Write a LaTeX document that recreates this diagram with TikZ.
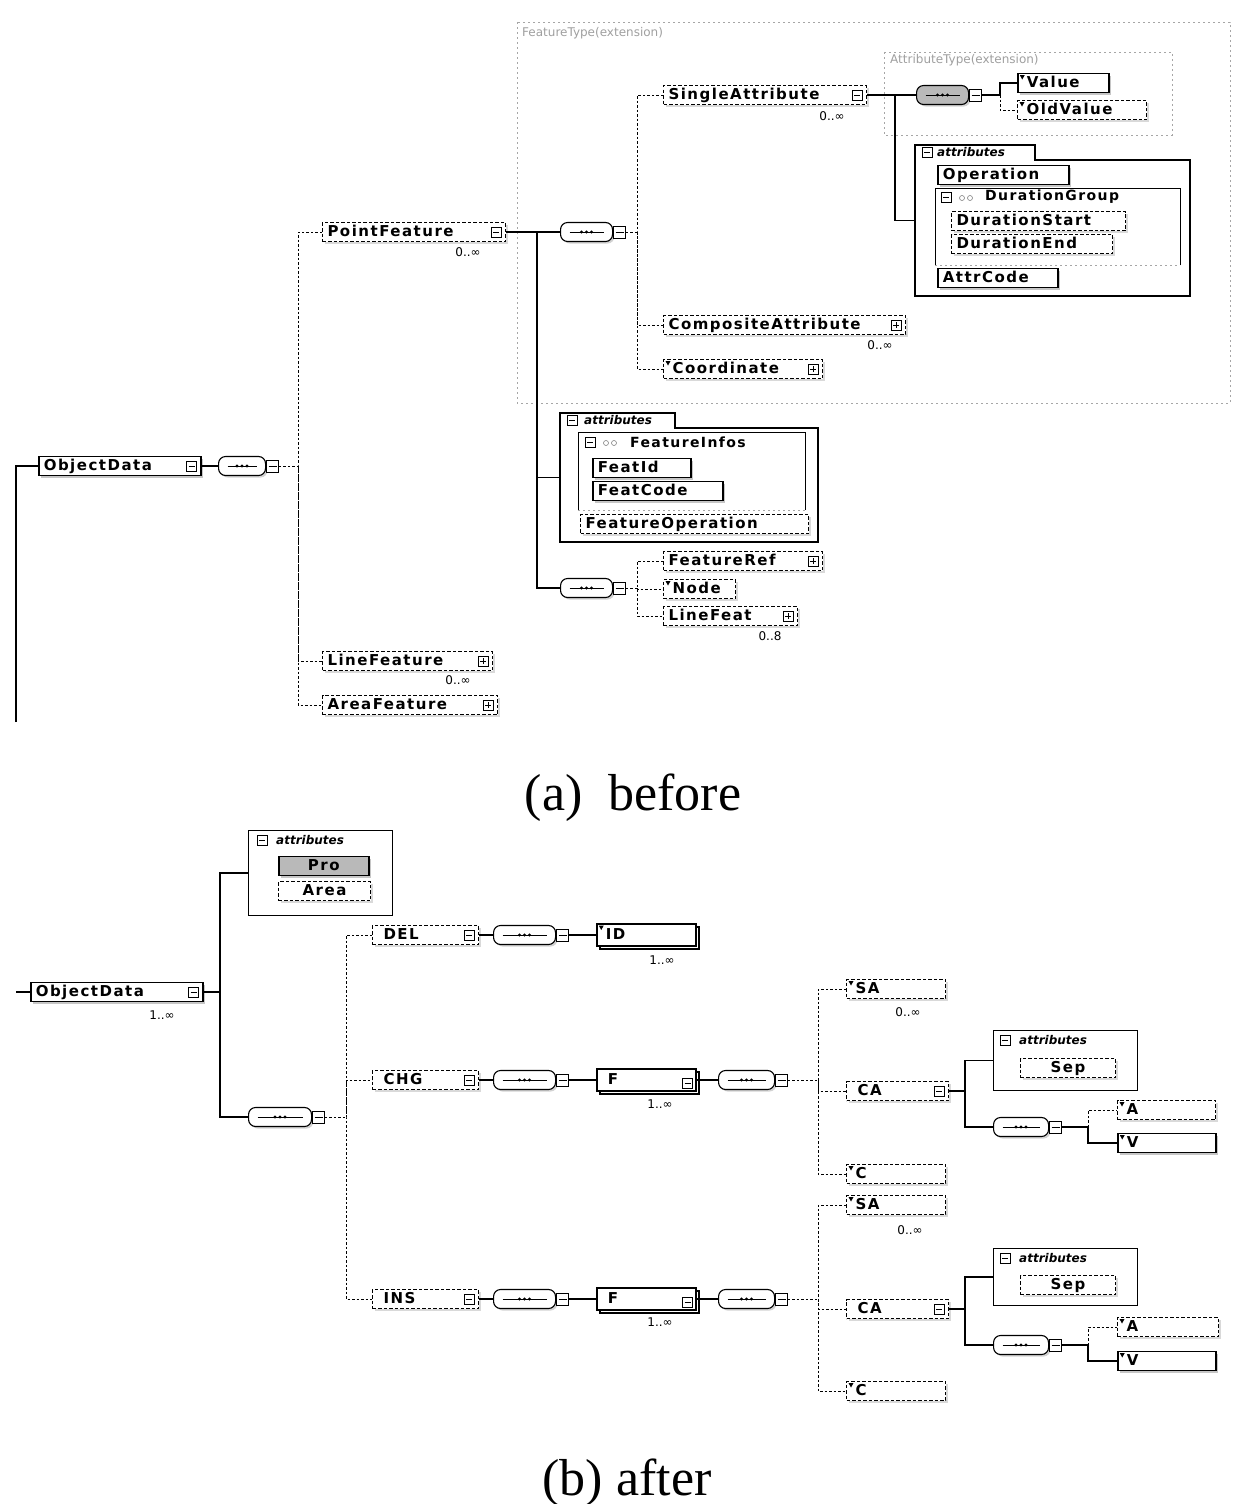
\documentclass[tikz,border=0pt]{standalone}
\usepackage{fontspec}
\setmainfont{Liberation Serif}
\newfontfamily\lab[LetterSpace=10]{DejaVu Sans}
\newfontfamily\smf{DejaVu Sans}
\usetikzlibrary{shadows,calc}
\tikzset{
  base/.style={rectangle, fill=white, anchor=west, inner xsep=5pt, inner ysep=0pt,
    text height=10.5pt, text depth=1.5pt, minimum height=19pt, align=left,
    font=\lab\bfseries\fontsize{15}{16}\selectfont},
  elem/.style={base, draw, line width=1.5pt,
    drop shadow={shadow xshift=2.5pt, shadow yshift=-2.5pt, fill=gray!45, opacity=1}},
  opt/.style={base, draw, line width=1pt, dash pattern=on 3.5pt off 2pt,
    drop shadow={shadow xshift=2.5pt, shadow yshift=-2.5pt, fill=gray!30, opacity=1}},
  multi/.style={copy shadow={shadow xshift=3pt, shadow yshift=-3pt}},
  tri/.style={path picture={\fill[black] ([xshift=2pt,yshift=-1.5pt]path picture bounding box.north west) -- ++(5pt,0pt) -- ++(-2.5pt,-4.5pt) -- cycle;}},
  comp/.style={draw, line width=1.1pt, fill=white, rounded corners=7pt, anchor=west,
    minimum height=19pt, inner sep=0pt,
    drop shadow={shadow xshift=2pt, shadow yshift=-2pt, fill=gray!35, opacity=1},
    path picture={\draw[black, line width=1pt] ([xshift=9pt]path picture bounding box.west) -- ([xshift=-9pt]path picture bounding box.east);
      \foreach \d in {-5,0,5} \fill[black] ([xshift=\d pt]path picture bounding box.center) circle (1.6pt);}},
  minb/.style={draw, line width=0.8pt, fill=white, minimum width=10pt, minimum height=10pt, inner sep=0pt,
    path picture={\draw[black, line width=0.8pt] ([xshift=2pt]path picture bounding box.west) -- ([xshift=-2pt]path picture bounding box.east);}},
  plusb/.style={draw, line width=0.8pt, fill=white, minimum width=10pt, minimum height=10pt, inner sep=0pt,
    path picture={\draw[black, line width=0.8pt] ([xshift=2pt]path picture bounding box.west) -- ([xshift=-2pt]path picture bounding box.east);
      \draw[black, line width=0.8pt] ([yshift=2pt]path picture bounding box.south) -- ([yshift=-2pt]path picture bounding box.north);}},
  cmpi/.style={minb, anchor=west, minimum width=12pt, minimum height=12pt},
  conn/.style={line width=1.3pt},
  tree/.style={line width=1pt, dash pattern=on 2.5pt off 2pt},
  mult/.style={font=\smf\fontsize{12}{13}\selectfont, inner sep=0pt},
  frame/.style={line width=1.1pt},
  grp/.style={line width=0.8pt, gray!70, dash pattern=on 2pt off 3pt},
  grplab/.style={anchor=west, inner sep=0pt, font=\smf\fontsize{12}{13}\selectfont, text=gray!75},
  tablab/.style={anchor=west, inner sep=0pt, font=\smf\bfseries\itshape\fontsize{12}{13}\selectfont},
  hdr/.style={anchor=west, inner sep=0pt, font=\lab\bfseries\fontsize{14}{15}\selectfont},
  abox/.style={inner sep=0pt, anchor=north west},
  captxt/.style={anchor=base, inner sep=0pt, font=\fontsize{52}{60}\selectfont}
}
\begin{document}
\begin{tikzpicture}[x=1pt,y=-1pt]
\useasboundingbox (0,0) rectangle (1232,1504);

% ================= (a) before =================
\draw[grp] (517,22) rectangle (1230,403);
\node[grplab] (ftl) at (522,33) {FeatureType(extension)};
\draw[grp] (884,52) rectangle (1172,135);
\node[grplab] (atl) at (890,60) {AttributeType(extension)};

% ObjectData
\node[elem, text width=152pt] (oda) at (38,466) {ObjectData};
\node[minb] (odaI) at ([xshift=-10pt]oda.east) {};
\node[comp, minimum width=47pt] (cmpOD) at (218,466) {};
\node[cmpi] (cmpODi) at (cmpOD.east) {};

% children of ObjectData
\node[opt, text width=173pt] (pf) at (322,232) {PointFeature};
\node[minb] (pfI) at ([xshift=-10pt]pf.east) {};
\node[mult] (pfM) at (468,252) {0..∞};
\node[opt, text width=160pt] (lf) at (322,661) {LineFeature};
\node[plusb] (lfI) at ([xshift=-10pt]lf.east) {};
\node[mult] (lfM) at (458,680) {0..∞};
\node[opt, text width=165pt] (af) at (322,705) {AreaFeature};
\node[plusb] (afI) at ([xshift=-10pt]af.east) {};

% PointFeature content
\node[comp, minimum width=52pt] (cmpPF) at (560,232) {};
\node[cmpi] (cmpPFi) at (cmpPF.east) {};

\node[opt, text width=193pt] (sa) at (663,95) {SingleAttribute};
\node[minb] (saI) at ([xshift=-10pt]sa.east) {};
\node[mult] (saM) at (832,116) {0..∞};
\node[opt, text width=232pt] (compa) at (663,325) {CompositeAttribute};
\node[plusb] (compaI) at ([xshift=-10pt]compa.east) {};
\node[mult] (compaM) at (880,345) {0..∞};
\node[opt, tri, text width=149pt] (coord) at (663,369) {\hspace{4pt}Coordinate};
\node[plusb] (coordI) at ([xshift=-10pt]coord.east) {};

% SingleAttribute content
\node[comp, minimum width=52pt, fill=gray!55] (cmpSA) at (916,95) {};
\node[cmpi] (cmpSAi) at (cmpSA.east) {};
\node[elem, tri, text width=81pt] (val) at (1017,83) {\hspace{4pt}Value};
\node[opt, tri, text width=119pt] (oldv) at (1017,110) {\hspace{4pt}OldValue};

% attributes box of SingleAttribute
\draw[frame] (915,296) -- (915,145) -- (1035,145) -- (1035,160) -- (1190,160) -- (1190,296) -- cycle;
\node[abox, minimum width=275pt, minimum height=151pt] (ab1) at (915,145) {};
\node[minb] (ab1i) at (927,152) {};
\node[tablab] (ab1l) at (937,152) {attributes};
\node[elem, text width=121pt] (oper) at (937,175) {Operation};
\draw[line width=0.9pt] (935,265) -- (935,188) -- (1180,188) -- (1180,265);
\draw[grp] (935,265) -- (1180,265);
\node[minb] (dgi) at (946,197) {};
\draw[gray, line width=0.6pt] (962,198) circle (2.5pt) (970,198) circle (2.5pt);
\node[hdr] (dgl) at (985,197) {DurationGroup};
\node[opt, text width=164pt] (dstart) at (951,221) {DurationStart};
\node[opt, text width=151pt] (dend) at (951,244) {DurationEnd};
\node[elem, text width=110pt] (acode) at (937,278) {AttrCode};

% attributes box of PointFeature
\draw[frame] (560,542) -- (560,413) -- (675,413) -- (675,428) -- (818,428) -- (818,542) -- cycle;
\node[abox, minimum width=258pt, minimum height=129pt] (ab2) at (560,413) {};
\node[minb] (ab2i) at (572,420) {};
\node[tablab] (ab2l) at (584,420) {attributes};
\draw[line width=0.9pt] (578,510) -- (578,432) -- (805,432) -- (805,510);
\draw[grp] (578,510) -- (805,510);
\node[minb] (fii) at (590,442) {};
\draw[gray, line width=0.6pt] (606,443) circle (2.5pt) (614,443) circle (2.5pt);
\node[hdr] (fil) at (630,442) {FeatureInfos};
\node[elem, text width=88pt] (fid) at (592,468) {FeatId};
\node[elem, text width=120pt] (fcode) at (592,491) {FeatCode};
\node[opt, text width=218pt] (fop) at (580,524) {FeatureOperation};

% second compositor of PointFeature
\node[comp, minimum width=52pt] (cmpPF2) at (560,588) {};
\node[cmpi] (cmpPF2i) at (cmpPF2.east) {};
\node[opt, text width=149pt] (fref) at (663,561) {FeatureRef};
\node[plusb] (frefI) at ([xshift=-10pt]fref.east) {};
\node[opt, tri, text width=62pt] (nodee) at (663,589) {\hspace{4pt}Node};
\node[opt, text width=124pt] (lfeat) at (663,616) {LineFeat};
\node[plusb] (lfeatI) at ([xshift=-10pt]lfeat.east) {};
\node[mult] (lfeatM) at (770,636) {0..8};

% connectors (a)
\coordinate (j0) at (16,466);
\coordinate (j0b) at (16,722);
\draw[conn] (j0b) -- (j0) -- (oda.west);
\draw[conn] (oda.east) -- (cmpOD.west);
\coordinate (tOD) at (298,466);
\draw[tree] (cmpODi.east) -- (tOD);
\draw[tree] (pf.west) -| (tOD) |- (af.west);
\draw[tree] (tOD) |- (lf.west);
\draw[conn] (pf.east) -- (cmpPF.west);
\coordinate (jPF) at (537,232);
\draw[conn] (jPF) |- (ab2.west);
\draw[conn] (jPF) |- (cmpPF2.west);
\coordinate (tPF) at (637,232);
\draw[tree] (cmpPFi.east) -- (tPF);
\draw[tree] (sa.west) -| (tPF) |- (coord.west);
\draw[tree] (tPF) |- (compa.west);
\draw[conn] (sa.east) -- (cmpSA.west);
\coordinate (jSA) at (895,95);
\draw[conn] (jSA) |- (ab1.west);
\coordinate (jV) at (1000,95);
\draw[conn] (cmpSAi.east) -- (jV) |- (val.west);
\draw[tree] (jV) |- (oldv.west);
\coordinate (tPF2) at (637,588);
\draw[tree] (cmpPF2i.east) -- (tPF2);
\draw[tree] (fref.west) -| (tPF2) |- (lfeat.west);
\draw[tree] (tPF2) |- (nodee.west);

\node[captxt] (capa) at (633,810) {(a)\hspace{0.5em}before};

% ================= (b) after =================
\node[elem, text width=162pt] (odb) at (30,992) {ObjectData};
\node[minb] (odbI) at ([xshift=-10pt]odb.east) {};
\node[mult] (odbM) at (162,1015) {1..∞};

\node[abox, draw, line width=1.1pt, minimum width=144pt, minimum height=85pt] (ab3) at (248,830) {};
\node[minb] (ab3i) at (262,840) {};
\node[tablab] (ab3l) at (276,840) {attributes};
\node[elem, fill=gray!55, text width=80pt, align=center] (pro) at (278,866) {Pro};
\node[opt, text width=82pt, align=center] (area) at (278,891) {Area};

\node[comp, minimum width=63pt] (cmpB) at (248,1117) {};
\node[cmpi] (cmpBi) at (cmpB.east) {};

% DEL
\node[opt, text width=96pt] (del) at (372,935) {\hspace{6pt}DEL};
\node[minb] (delI) at ([xshift=-10pt]del.east) {};
\node[comp, minimum width=62pt] (cmpDEL) at (493,935) {};
\node[cmpi] (cmpDELi) at (cmpDEL.east) {};
\node[elem, multi, tri, minimum height=22pt, text width=89pt] (id) at (596,935) {\hspace{4pt}ID};
\node[mult] (idM) at (662,960) {1..∞};

% CHG
\node[opt, text width=96pt] (chg) at (372,1080) {\hspace{6pt}CHG};
\node[minb] (chgI) at ([xshift=-10pt]chg.east) {};
\node[comp, minimum width=62pt] (cmpCHG) at (493,1080) {};
\node[cmpi] (cmpCHGi) at (cmpCHG.east) {};
\node[elem, multi, minimum height=22pt, text width=89pt] (fc) at (596,1080) {\hspace{6pt}F};
\node[minb] (fcI) at ([xshift=-9pt,yshift=-3pt]fc.east) {};
\node[mult] (fcM) at (660,1104) {1..∞};
\node[comp, minimum width=56pt] (cmpFc) at (718,1080) {};
\node[cmpi] (cmpFci) at (cmpFc.east) {};
\node[opt, tri, text width=89pt] (sa1) at (846,989) {\hspace{4pt}SA};
\node[mult] (sa1M) at (908,1012) {0..∞};
\node[opt, text width=92pt] (ca1) at (846,1091) {\hspace{6pt}CA};
\node[minb] (ca1I) at ([xshift=-10pt]ca1.east) {};
\node[opt, tri, text width=89pt] (c1) at (846,1174) {\hspace{4pt}C};
\node[abox, draw, line width=1.1pt, minimum width=144pt, minimum height=60pt] (ab4) at (993,1030) {};
\node[minb] (ab4i) at (1005,1040) {};
\node[tablab] (ab4l) at (1019,1040) {attributes};
\node[opt, text width=85pt, align=center] (sep1) at (1020,1068) {Sep};
\node[comp, minimum width=55pt] (cmpCA1) at (993,1127) {};
\node[cmpi] (cmpCA1i) at (cmpCA1.east) {};
\node[opt, tri, text width=88pt] (a1) at (1117,1110) {\hspace{4pt}A};
\node[elem, tri, text width=88pt] (v1) at (1117,1143) {\hspace{4pt}V};

% INS
\node[opt, text width=96pt] (ins) at (372,1299) {\hspace{6pt}INS};
\node[minb] (insI) at ([xshift=-10pt]ins.east) {};
\node[comp, minimum width=62pt] (cmpINS) at (493,1299) {};
\node[cmpi] (cmpINSi) at (cmpINS.east) {};
\node[elem, multi, minimum height=22pt, text width=89pt] (fi) at (596,1299) {\hspace{6pt}F};
\node[minb] (fiI) at ([xshift=-9pt,yshift=-3pt]fi.east) {};
\node[mult] (fiM) at (660,1322) {1..∞};
\node[comp, minimum width=56pt] (cmpFi) at (718,1299) {};
\node[cmpi] (cmpFii) at (cmpFi.east) {};
\node[opt, tri, text width=89pt] (sa2) at (846,1205) {\hspace{4pt}SA};
\node[mult] (sa2M) at (910,1230) {0..∞};
\node[opt, text width=92pt] (ca2) at (846,1309) {\hspace{6pt}CA};
\node[minb] (ca2I) at ([xshift=-10pt]ca2.east) {};
\node[opt, tri, text width=89pt] (c2) at (846,1391) {\hspace{4pt}C};
\node[abox, draw, line width=1.1pt, minimum width=144pt, minimum height=57pt] (ab5) at (993,1248) {};
\node[minb] (ab5i) at (1005,1258) {};
\node[tablab] (ab5l) at (1019,1258) {attributes};
\node[opt, text width=85pt, align=center] (sep2) at (1020,1285) {Sep};
\node[comp, minimum width=55pt] (cmpCA2) at (993,1345) {};
\node[cmpi] (cmpCA2i) at (cmpCA2.east) {};
\node[opt, tri, text width=91pt] (a2) at (1117,1327) {\hspace{4pt}A};
\node[elem, tri, text width=88pt] (v2) at (1117,1361) {\hspace{4pt}V};

% connectors (b)
\coordinate (jb0) at (16,992);
\draw[conn] (jb0) -- (odb.west);
\coordinate (jb) at (220,992);
\draw[conn] (odb.east) -- (jb);
\draw[conn] (ab3.west) -| (jb) |- (cmpB.west);
\coordinate (tB) at (346,1117);
\draw[tree] (cmpBi.east) -- (tB);
\draw[tree] (del.west) -| (tB) |- (ins.west);
\draw[tree] (tB) |- (chg.west);

\draw[conn] (del.east) -- (cmpDEL.west);
\draw[conn] (cmpDELi.east) -- (id.west);

\draw[conn] (chg.east) -- (cmpCHG.west);
\draw[conn] (cmpCHGi.east) -- (fc.west);
\draw[conn] (fc.east) -- (cmpFc.west);
\coordinate (tF1) at (818,1080);
\draw[tree] (cmpFci.east) -- (tF1);
\draw[tree] (sa1.west) -| (tF1) |- (c1.west);
\draw[tree] (tF1) |- (ca1.west);
\coordinate (jca1) at (965,1091);
\draw[conn] (ca1.east) -- (jca1);
\draw[conn] (ab4.west) -| (jca1) |- (cmpCA1.west);
\coordinate (jA1) at (1088,1127);
\draw[conn] (cmpCA1i.east) -- (jA1) |- (v1.west);
\draw[tree] (jA1) |- (a1.west);

\draw[conn] (ins.east) -- (cmpINS.west);
\draw[conn] (cmpINSi.east) -- (fi.west);
\draw[conn] (fi.east) -- (cmpFi.west);
\coordinate (tF2) at (818,1299);
\draw[tree] (cmpFii.east) -- (tF2);
\draw[tree] (sa2.west) -| (tF2) |- (c2.west);
\draw[tree] (tF2) |- (ca2.west);
\coordinate (jca2) at (965,1309);
\draw[conn] (ca2.east) -- (jca2);
\draw[conn] (ab5.west) -| (jca2) |- (cmpCA2.west);
\coordinate (jA2) at (1088,1345);
\draw[conn] (cmpCA2i.east) -- (jA2) |- (v2.west);
\draw[tree] (jA2) |- (a2.west);

\node[captxt] (capb) at (627,1495) {(b) after};
\end{tikzpicture}
\end{document}
